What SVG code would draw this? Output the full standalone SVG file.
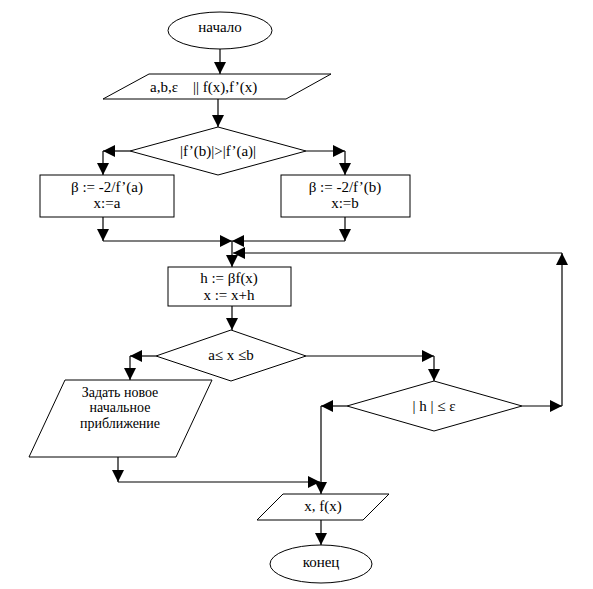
<svg xmlns="http://www.w3.org/2000/svg" width="593" height="589" viewBox="0 0 593 589">
<style>
.s{fill:#fff;stroke:#000;stroke-width:1}
.t{font-family:'Liberation Serif','Times New Roman',serif;font-size:15px;fill:#000;text-anchor:middle}
.r{font-size:14px}
.c{fill:none;stroke:#000;stroke-width:1.2}
</style>
<defs>
<marker id="a" markerUnits="userSpaceOnUse" markerWidth="12" markerHeight="12" viewBox="0 0 10 10" refX="10" refY="5" orient="auto">
<path d="M0,0 L10,5 L0,10 z" fill="#000"/>
</marker>
</defs>
<rect width="593" height="589" fill="#fff"/>
<g id="start">
<ellipse class="s" cx="220" cy="30.5" rx="52" ry="18.5"/>
<text class="t" x="220" y="32">начало</text>
</g>
<g id="input">
<polygon class="s" points="149,74 331,74 286,99 103,99"/>
<text class="t" x="150" y="92" style="text-anchor:start;white-space:pre" xml:space="preserve">a,b,ε    || f(x),f’(x)</text>
</g>
<g id="cond1">
<polygon class="s" points="218,127 306,151 218,175 130,151"/>
<text class="t" x="218" y="156">|f’(b)|&gt;|f’(a)|</text>
</g>
<g id="boxA">
<rect class="s" x="40" y="175" width="134" height="42"/>
<text class="t" x="107" y="192">β := -2/f’(a)</text>
<text class="t" x="107" y="208">x:=a</text>
</g>
<g id="boxB">
<rect class="s" x="281" y="175" width="129" height="42"/>
<text class="t" x="345" y="192">β := -2/f’(b)</text>
<text class="t" x="345" y="208">x:=b</text>
</g>
<g id="step">
<rect class="s" x="168" y="267" width="123" height="39"/>
<text class="t" x="229" y="283">h := βf(x)</text>
<text class="t" x="229" y="300">x := x+h</text>
</g>
<g id="cond2">
<polygon class="s" points="231,330 306,356 231,381 156,356"/>
<text class="t" x="231" y="360">a≤ x ≤b</text>
</g>
<g id="newApprox">
<polygon class="s" points="65,380 212,380 176,457 29,457"/>
<text class="t r" x="120" y="397">Задать новое</text>
<text class="t r" x="120" y="412">начальное</text>
<text class="t r" x="120" y="428">приближение</text>
</g>
<g id="cond3">
<polygon class="s" points="434,381 522,406 434,431 347,406"/>
<text class="t" x="434" y="411">| h | ≤ ε</text>
</g>
<g id="output">
<polygon class="s" points="283,494 389,494 363,520 257,520"/>
<text class="t" x="323" y="511">x, f(x)</text>
</g>
<g id="end">
<ellipse class="s" cx="321" cy="564" rx="51" ry="19"/>
<text class="t" x="321" y="567">конец</text>
</g>
<g id="connectors">
<path class="c" d="M220,49 V74" marker-end="url(#a)"/>
<path class="c" d="M218,99 V127" marker-end="url(#a)"/>
<path class="c" d="M130,151 H103" marker-end="url(#a)"/>
<path class="c" d="M103,151 V175" marker-end="url(#a)"/>
<path class="c" d="M306,151 H345" marker-end="url(#a)"/>
<path class="c" d="M345,151 V175" marker-end="url(#a)"/>
<path class="c" d="M103,217 V241" marker-end="url(#a)"/>
<path class="c" d="M103,241 H232" marker-end="url(#a)"/>
<path class="c" d="M345,217 V241" marker-end="url(#a)"/>
<path class="c" d="M345,241 H232" marker-end="url(#a)"/>
<path class="c" d="M232,241 V267" marker-end="url(#a)"/>
<path class="c" d="M232,306 V330" marker-end="url(#a)"/>
<path class="c" d="M156,356 H130" marker-end="url(#a)"/>
<path class="c" d="M130,356 V380" marker-end="url(#a)"/>
<path class="c" d="M306,356 H434" marker-end="url(#a)"/>
<path class="c" d="M434,356 V381" marker-end="url(#a)"/>
<path class="c" d="M522,406 H562" marker-end="url(#a)"/>
<path class="c" d="M562,406 V253" marker-end="url(#a)"/>
<path class="c" d="M562,253 H233" marker-end="url(#a)"/>
<path class="c" d="M347,406 H321" marker-end="url(#a)"/>
<path class="c" d="M321,406 V494" marker-end="url(#a)"/>
<path class="c" d="M118,457 V482" marker-end="url(#a)"/>
<path class="c" d="M118,482 H320" marker-end="url(#a)"/>
<path class="c" d="M321,520 V545" marker-end="url(#a)"/>
</g>
</svg>
